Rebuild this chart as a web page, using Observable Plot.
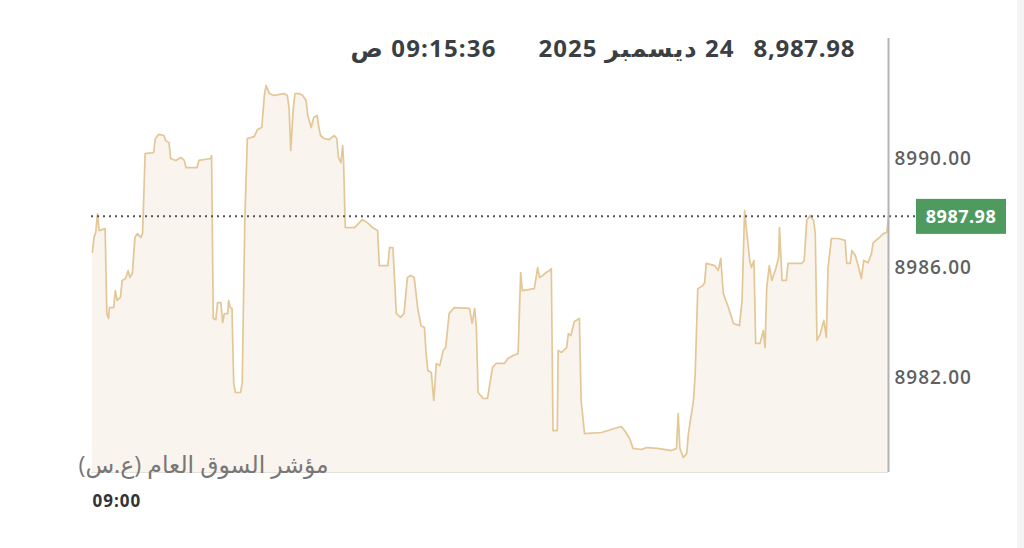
<!DOCTYPE html>
<html>
<head>
<meta charset="utf-8">
<script src="https://cdn.jsdelivr.net/npm/d3@7"></script>
<script src="https://cdn.jsdelivr.net/npm/@observablehq/plot@0.6"></script>
<style>
  html, body { margin: 0; padding: 0; }
  body { width: 1024px; height: 548px; overflow: hidden;
         background: linear-gradient(to right, #ffffff 1017px, #f4f4f4 1017px); }
  svg { font-family: "Open Sans", "Noto Sans", "DejaVu Sans", sans-serif; }
  svg text { letter-spacing: 1px; }
</style>
</head>
<body>
<div id="chart"></div>
<script>
// ---- data ----
// seconds after 09:00:00
const seconds = [1,3,5,7,9,16,18,20,21,26,28,30,34,36,40,43,45,48,51,54,58,60,63,73,75,79,85,87,91,93,99,105,109,111,124,126,140,141,143,146,148,152,154,156,160,161,163,165,167,169,175,177,180,183,191,195,200,203,205,209,214,226,230,232,234,237,239,244,248,252,254,258,261,265,267,269,273,279,285,288,290,293,295,296,298,309,318,324,330,336,338,348,350,354,358,363,367,371,375,379,383,387,391,393,395,399,402,405,409,413,416,420,426,444,447,450,452,454,460,465,471,475,485,489,495,501,504,506,520,524,526,530,534,538,540,542,547,548,552,558,560,563,567,573,575,579,599,622,626,632,636,646,652,665,681,687,689,691,695,699,701,707,709,712,718,720,722,732,736,739,742,748,754,761,764,767,769,773,775,778,780,785,789,791,793,796,799,803,807,808,811,816,818,834,837,840,844,848,850,852,856,860,863,865,869,877,885,887,891,893,897,901,904,907,912,916,918,924,930,934,936];
// index value
const values = [8986.69,8987.24,8987.42,8988.09,8987.48,8987.55,8984.45,8984.27,8984.67,8984.67,8985.29,8984.93,8985.04,8985.66,8985.73,8986.02,8985.77,8985.91,8987.23,8987.37,8987.23,8987.37,8990.29,8990.33,8990.84,8990.99,8990.95,8990.77,8990.69,8990.11,8990.04,8990.15,8990.04,8989.78,8989.78,8990.04,8990.11,8990.22,8984.27,8984.23,8984.85,8984.85,8984.12,8984.45,8984.45,8984.93,8984.67,8984.64,8981.90,8981.57,8981.57,8981.90,8987.77,8990.84,8990.91,8991.17,8991.24,8992.41,8992.77,8992.48,8992.41,8992.48,8992.41,8991.97,8990.40,8991.97,8992.48,8992.48,8992.41,8992.23,8991.68,8991.24,8991.61,8991.68,8991.24,8990.95,8990.84,8990.80,8990.95,8990.84,8990.15,8989.96,8990.58,8990.04,8987.59,8987.59,8987.88,8987.77,8987.59,8987.48,8986.20,8986.20,8986.86,8986.86,8984.45,8984.31,8984.45,8985.77,8985.84,8985.77,8984.67,8984.01,8983.94,8982.99,8982.37,8982.30,8981.28,8982.63,8982.55,8983.10,8983.21,8984.45,8984.67,8984.64,8984.09,8984.64,8983.94,8981.57,8981.35,8981.35,8982.48,8982.63,8982.63,8982.81,8982.92,8982.99,8985.95,8985.29,8985.36,8986.13,8985.77,8985.84,8985.95,8986.02,8986.09,8980.18,8980.18,8983.10,8983.03,8983.21,8983.72,8983.65,8984.16,8984.27,8981.28,8980.07,8980.11,8980.33,8980.18,8979.89,8979.53,8979.49,8979.56,8979.53,8979.45,8979.53,8980.80,8979.53,8979.20,8979.34,8980.07,8981.28,8982.26,8985.36,8985.47,8985.58,8986.28,8986.20,8986.02,8986.46,8985.18,8984.67,8984.09,8984.01,8984.93,8988.21,8987.59,8986.39,8986.13,8986.39,8983.36,8983.36,8983.83,8983.21,8985.40,8986.20,8985.66,8986.02,8986.50,8987.59,8985.66,8985.66,8986.28,8986.28,8986.39,8987.85,8988.03,8987.85,8987.37,8983.47,8983.72,8984.20,8983.58,8986.13,8987.19,8987.19,8987.12,8986.28,8986.28,8986.75,8986.57,8986.13,8985.73,8986.39,8986.31,8986.64,8987.04,8987.19,8987.37,8987.41,8987.98];
const yTicks = [8982, 8986, 8990];
const xTickLabels = ["09:00"];
const titleValue = ["8,987.98"];
const titleDate = ["\u200F24 ديسمبر 2025"];
const titleTime = ["\u200F09:15:36 ص"];
const caption = ["\u200Fمؤشر السوق العام (ع.س)\u200F"];
const lastValue = 8987.98;
const lastLabel = "8987.98";

// ---- build ----
const t0 = new Date(Date.UTC(2025, 11, 24, 9, 0, 0));
const t1 = new Date(Date.UTC(2025, 11, 24, 9, 15, 36));
const data = seconds.map((s, i) => ({ t: new Date(t0.getTime() + s * 1000), v: values[i] }));
const yMin = 8978.65, yMax = 8994.49;

const lastMarker = (index, scales, channels, dims) => {
  const g = d3.create("svg:g");
  const yy = scales.y(lastValue);
  const xl = dims.marginLeft;
  const xb = dims.width - dims.marginRight + 28;
  g.append("line").attr("x1", xl).attr("x2", xb).attr("y1", yy).attr("y2", yy)
    .attr("stroke", "#555").attr("stroke-width", 2).attr("stroke-dasharray", "2,4");
  g.append("rect").attr("x", xb).attr("y", yy - 17.5).attr("width", 90).attr("height", 35)
    .attr("fill", "#4f9a5f");
  g.append("text").attr("x", xb + 45).attr("y", yy).attr("text-anchor", "middle")
    .attr("dominant-baseline", "central").attr("fill", "#fff").style("letter-spacing", "0.5px")
    .attr("font-size", 18).attr("font-weight", 700).text(lastLabel);
  return g.node();
};

const chart = Plot.plot({
  width: 1024,
  height: 548,
  marginLeft: 91,
  marginRight: 136,
  marginTop: 38,
  marginBottom: 76,
  style: { background: "transparent", overflow: "visible" },
  x: { type: "utc", domain: [t0, t1], label: null },
  y: { domain: [yMin, yMax], label: null },
  marks: [
    Plot.areaY(data, { x: "t", y1: yMin, y2: "v", fill: "#f9f4ed" }),
    Plot.ruleY([yMin], { stroke: "#e4e0da", strokeWidth: 1 }),
    Plot.lineY(data, { x: "t", y: "v", stroke: "#e4c797", strokeWidth: 1.7 }),
    lastMarker,
    Plot.ruleX([t1], { stroke: "#b4b4b4", strokeWidth: 2 }),
    Plot.axisY({ anchor: "right", ticks: yTicks, tickSize: 0, tickPadding: 6, dy: -3, label: null,
      tickFormat: d => d.toFixed(2), fontSize: 19, fontWeight: 600, fill: "#606060" }),
    Plot.axisX({ anchor: "bottom", ticks: [t0], tickSize: 0, tickPadding: 22, dx: 1, label: null,
      tickFormat: (d, i) => xTickLabels[i], textAnchor: "start",
      fontSize: 17, fontWeight: 700, fill: "#333" }),
    Plot.text(titleValue, { text: d => d, frameAnchor: "top-right", textAnchor: "end",
      lineAnchor: "middle", dx: -33, dy: 11, fontSize: 24, fontWeight: 700, fill: "#3b3f43" }),
    Plot.text(titleDate, { text: d => d, frameAnchor: "top-right", textAnchor: "end",
      lineAnchor: "middle", dx: -154, dy: 11, fontSize: 24, fontWeight: 700, fill: "#3b3f43" }),
    Plot.text(titleTime, { text: d => d, frameAnchor: "top-right", textAnchor: "end",
      lineAnchor: "middle", dx: -392, dy: 11, fontSize: 24, fontWeight: 700, fill: "#3b3f43" }),
    Plot.text(caption, { text: d => d, frameAnchor: "bottom-left", textAnchor: "start",
      lineAnchor: "middle", dx: -13, dy: -7, fontSize: 23.5, fill: "#777" })
  ]
});
// widen the title texts to the reference widths; keep Arabic caption untracked
d3.select(chart).selectAll("text").each(function () {
  const s = this.textContent;
  if (s.includes("مؤشر")) this.style.letterSpacing = "0px";
  else if (s.includes("8,987.98")) { this.setAttribute("textLength", 102); this.setAttribute("lengthAdjust", "spacing"); }
  else if (s.includes("09:15:36")) { this.setAttribute("textLength", 146); this.setAttribute("lengthAdjust", "spacing"); }
  else if (s.includes("2025")) { this.setAttribute("textLength", 196); this.setAttribute("lengthAdjust", "spacing"); }
});
document.getElementById("chart").appendChild(chart);
</script>
</body>
</html>
